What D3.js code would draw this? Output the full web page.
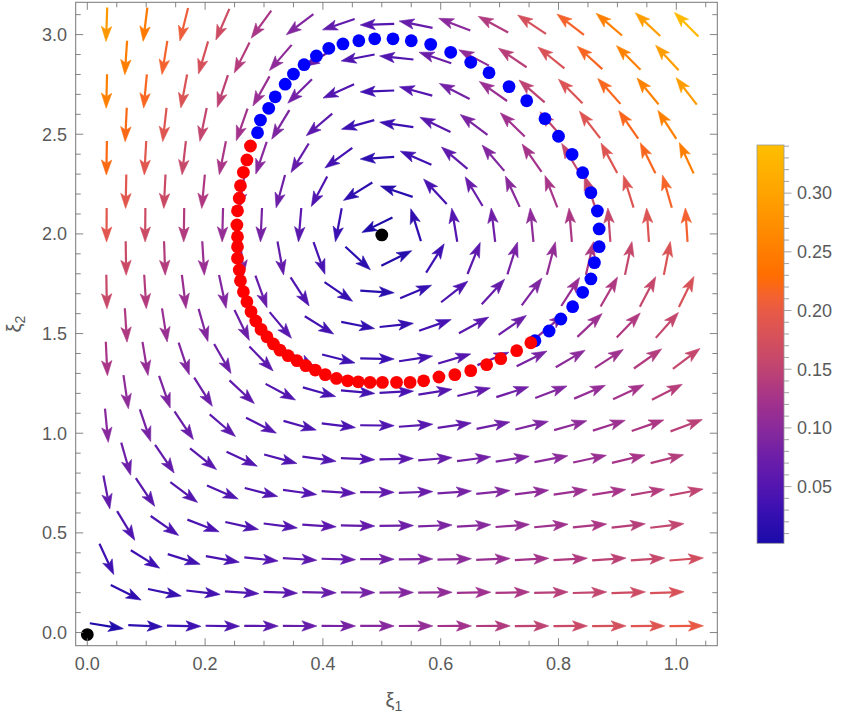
<!DOCTYPE html>
<html><head><meta charset="utf-8">
<script src="https://cdn.jsdelivr.net/npm/d3@7"></script>
<style>body{margin:0;background:#fff;} svg{display:block;} text{font-family:"Liberation Sans", Arial, sans-serif;}</style>
</head><body><svg id="chart" width="848" height="722"></svg>
<script>
// ---------------- data ----------------
// grid of arrow centres (staggered rows)
const xColsA = [0.0328,0.0984,0.1641,0.2297,0.2953,0.3609,0.4266,0.4922,0.5578,0.6234,0.6891,0.7547,0.8203,0.8859,0.9516,1.0172];
const xColsB = [0.0656,0.1313,0.1969,0.2625,0.3281,0.3938,0.4594,0.5250,0.5906,0.6563,0.7219,0.7875,0.8531,0.9188,0.9844];
const yRows = [0.033,0.201,0.368,0.536,0.704,0.871,1.039,1.207,1.374,1.542,1.710,1.878,2.045,2.213,2.381,2.548,2.716,2.884,3.051];
// vector components per row (even rows use xColsA, odd rows xColsB)
const U = [
[0.0065,0.0194,0.0323,0.0452,0.0581,0.0710,0.0839,0.0968,0.1097,0.1226,0.1355,0.1484,0.1614,0.1743,0.1872,0.2001],
[0.0118,0.0236,0.0354,0.0472,0.0590,0.0708,0.0827,0.0945,0.1063,0.1181,0.1299,0.1417,0.1535,0.1653,0.1771],
[0.0054,0.0161,0.0268,0.0375,0.0482,0.0589,0.0696,0.0803,0.0910,0.1017,0.1124,0.1231,0.1338,0.1446,0.1553,0.1660],
[0.0096,0.0192,0.0288,0.0384,0.0480,0.0576,0.0673,0.0769,0.0865,0.0961,0.1057,0.1153,0.1249,0.1345,0.1441],
[0.0043,0.0128,0.0213,0.0298,0.0383,0.0468,0.0553,0.0638,0.0723,0.0808,0.0893,0.0978,0.1063,0.1148,0.1233,0.1318],
[0.0074,0.0148,0.0222,0.0296,0.0370,0.0444,0.0518,0.0593,0.0667,0.0741,0.0815,0.0889,0.0963,0.1037,0.1111],
[0.0032,0.0095,0.0158,0.0221,0.0284,0.0347,0.0410,0.0473,0.0536,0.0599,0.0662,0.0725,0.0788,0.0851,0.0914,0.0977],
[0.0052,0.0104,0.0156,0.0208,0.0260,0.0312,0.0364,0.0416,0.0468,0.0521,0.0573,0.0625,0.0677,0.0729,0.0781],
[0.0021,0.0062,0.0103,0.0144,0.0185,0.0226,0.0267,0.0308,0.0349,0.0390,0.0431,0.0472,0.0513,0.0554,0.0595,0.0636],
[0.0030,0.0060,0.0090,0.0120,0.0150,0.0180,0.0210,0.0240,0.0270,0.0300,0.0330,0.0361,0.0391,0.0421,0.0451],
[0.0010,0.0029,0.0048,0.0067,0.0086,0.0105,0.0124,0.0143,0.0162,0.0181,0.0200,0.0219,0.0238,0.0257,0.0276,0.0295],
[0.0008,0.0016,0.0024,0.0032,0.0040,0.0048,0.0056,0.0064,0.0072,0.0080,0.0088,0.0096,0.0104,0.0112,0.0120],
[-0.0001,-0.0004,-0.0007,-0.0010,-0.0013,-0.0016,-0.0019,-0.0022,-0.0025,-0.0028,-0.0031,-0.0034,-0.0037,-0.0040,-0.0043,-0.0046],
[-0.0014,-0.0028,-0.0042,-0.0056,-0.0070,-0.0084,-0.0098,-0.0112,-0.0126,-0.0140,-0.0154,-0.0168,-0.0182,-0.0196,-0.0209],
[-0.0012,-0.0037,-0.0062,-0.0087,-0.0112,-0.0137,-0.0162,-0.0187,-0.0212,-0.0237,-0.0262,-0.0287,-0.0312,-0.0337,-0.0362,-0.0387],
[-0.0036,-0.0072,-0.0108,-0.0144,-0.0180,-0.0216,-0.0252,-0.0288,-0.0324,-0.0360,-0.0396,-0.0432,-0.0468,-0.0504,-0.0540],
[-0.0023,-0.0070,-0.0117,-0.0164,-0.0211,-0.0258,-0.0305,-0.0352,-0.0399,-0.0446,-0.0493,-0.0540,-0.0587,-0.0634,-0.0681,-0.0728],
[-0.0058,-0.0116,-0.0174,-0.0232,-0.0290,-0.0348,-0.0406,-0.0464,-0.0522,-0.0580,-0.0638,-0.0696,-0.0754,-0.0812,-0.0870],
[-0.0034,-0.0103,-0.0172,-0.0241,-0.0310,-0.0379,-0.0448,-0.0517,-0.0586,-0.0655,-0.0724,-0.0793,-0.0862,-0.0931,-0.1000,-0.1069]
];
const V = [
[-0.0031,-0.0026,-0.0022,-0.0018,-0.0014,-0.0009,-0.0005,-0.0001,0.0004,0.0008,0.0012,0.0017,0.0021,0.0025,0.0030,0.0034],
[-0.0174,-0.0148,-0.0122,-0.0095,-0.0069,-0.0043,-0.0016,0.0010,0.0036,0.0063,0.0089,0.0115,0.0142,0.0168,0.0194],
[-0.0344,-0.0296,-0.0248,-0.0199,-0.0151,-0.0102,-0.0054,-0.0006,0.0043,0.0091,0.0139,0.0188,0.0236,0.0284,0.0333,0.0381],
[-0.0466,-0.0395,-0.0325,-0.0255,-0.0184,-0.0114,-0.0044,0.0027,0.0097,0.0168,0.0238,0.0308,0.0379,0.0449,0.0519],
[-0.0658,-0.0565,-0.0473,-0.0380,-0.0288,-0.0196,-0.0103,-0.0011,0.0081,0.0174,0.0266,0.0358,0.0451,0.0543,0.0636,0.0728],
[-0.0757,-0.0643,-0.0528,-0.0414,-0.0300,-0.0185,-0.0071,0.0044,0.0158,0.0272,0.0387,0.0501,0.0615,0.0730,0.0844],
[-0.0971,-0.0835,-0.0698,-0.0562,-0.0425,-0.0289,-0.0153,-0.0016,0.0120,0.0257,0.0393,0.0529,0.0666,0.0802,0.0938,0.1075],
[-0.1048,-0.0890,-0.0732,-0.0573,-0.0415,-0.0256,-0.0098,0.0060,0.0219,0.0377,0.0536,0.0694,0.0852,0.1011,0.1169],
[-0.1284,-0.1104,-0.0923,-0.0743,-0.0563,-0.0382,-0.0202,-0.0021,0.0159,0.0339,0.0520,0.0700,0.0880,0.1061,0.1241,0.1422],
[-0.1340,-0.1137,-0.0935,-0.0732,-0.0530,-0.0328,-0.0125,0.0077,0.0280,0.0482,0.0684,0.0887,0.1089,0.1292,0.1494],
[-0.1598,-0.1373,-0.1149,-0.0924,-0.0700,-0.0476,-0.0251,-0.0027,0.0198,0.0422,0.0647,0.0871,0.1095,0.1320,0.1544,0.1769],
[-0.1631,-0.1385,-0.1138,-0.0892,-0.0645,-0.0399,-0.0153,0.0094,0.0340,0.0587,0.0833,0.1080,0.1326,0.1572,0.1819],
[-0.1911,-0.1643,-0.1374,-0.1106,-0.0837,-0.0569,-0.0300,-0.0032,0.0236,0.0505,0.0773,0.1042,0.1310,0.1579,0.1847,0.2116],
[-0.1922,-0.1632,-0.1342,-0.1051,-0.0761,-0.0470,-0.0180,0.0111,0.0401,0.0692,0.0982,0.1272,0.1563,0.1853,0.2144],
[-0.2224,-0.1912,-0.1599,-0.1287,-0.0975,-0.0662,-0.0350,-0.0037,0.0275,0.0588,0.0900,0.1213,0.1525,0.1837,0.2150,0.2462],
[-0.2214,-0.1879,-0.1545,-0.1210,-0.0876,-0.0541,-0.0207,0.0127,0.0462,0.0796,0.1131,0.1465,0.1800,0.2134,0.2469],
[-0.2538,-0.2181,-0.1825,-0.1468,-0.1112,-0.0755,-0.0399,-0.0042,0.0314,0.0671,0.1027,0.1383,0.1740,0.2096,0.2453,0.2809],
[-0.2505,-0.2127,-0.1748,-0.1370,-0.0991,-0.0613,-0.0234,0.0144,0.0523,0.0901,0.1280,0.1658,0.2037,0.2415,0.2793],
[-0.2851,-0.2451,-0.2050,-0.1650,-0.1249,-0.0849,-0.0448,-0.0048,0.0353,0.0753,0.1154,0.1554,0.1955,0.2355,0.2756,0.3156]
];
// trajectory samples
const blueX = [0.760,0.784,0.804,0.824,0.841,0.855,0.861,0.869,0.869,0.866,0.855,0.841,0.823,0.800,0.777,0.746,0.716,0.682,0.651,0.617,0.583,0.550,0.519,0.488,0.461,0.434,0.410,0.389,0.368,0.350,0.336,0.319,0.308,0.294,0.289];
const blueY = [1.464,1.513,1.573,1.635,1.707,1.774,1.856,1.936,2.025,2.115,2.207,2.307,2.399,2.490,2.578,2.668,2.739,2.809,2.861,2.911,2.951,2.969,2.979,2.979,2.969,2.953,2.931,2.893,2.849,2.802,2.751,2.688,2.630,2.571,2.508];
const redX = [0.277,0.271,0.265,0.260,0.258,0.255,0.254,0.255,0.255,0.255,0.258,0.260,0.265,0.271,0.278,0.286,0.295,0.305,0.316,0.327,0.341,0.356,0.371,0.387,0.404,0.423,0.442,0.460,0.480,0.501,0.525,0.548,0.571,0.597,0.624,0.651,0.678,0.702,0.729,0.753];
const redY = [2.441,2.371,2.309,2.242,2.179,2.116,2.045,1.986,1.936,1.878,1.819,1.765,1.710,1.660,1.610,1.563,1.521,1.484,1.448,1.417,1.389,1.364,1.339,1.317,1.294,1.275,1.263,1.258,1.255,1.255,1.255,1.255,1.263,1.282,1.294,1.314,1.344,1.374,1.414,1.454];
// equilibrium points
const eqX = [0.0, 0.5];
const eqY = [-0.01, 1.995];
// ticks
const xTicks = [0.0,0.2,0.4,0.6,0.8,1.0];
const yTicks = [0.0,0.5,1.0,1.5,2.0,2.5,3.0];
const cbTicks = [0.05,0.10,0.15,0.20,0.25,0.30];
const cbRange = [0.0017, 0.341];
// colour function stops (value -> colour)
const stopValues = [0.0017,0.03,0.05,0.075,0.10,0.125,0.15,0.175,0.20,0.215,0.228,0.26,0.30,0.341];
const stopColors = ["#1a0ba8","#3a10b2","#5315b0","#6c1ea8","#8a2a9c","#a5338a","#bf4472","#d4505c","#e85a46","#f6642a","#ff6c00","#ff8500","#ffa300","#ffbf00"];

// ---------------- drawing ----------------
const svg = d3.select("#chart");
const W = 848, H = 722;
const L = 75.7, R = 717.3, T = 2.3, B = 645.7;
const x = d3.scaleLinear().domain([-0.0197, 1.0696]).range([L, R]);
const y = d3.scaleLinear().domain([-0.066, 3.162]).range([B, T]);
const color = d3.scaleLinear().domain(stopValues).range(stopColors).interpolate(d3.interpolateRgb).clamp(true);

svg.append("rect").attr("width", W).attr("height", H).attr("fill", "#fff");

const arrows = [];
yRows.forEach((yv, k) => {
  const xs = (k % 2 === 0) ? xColsA : xColsB;
  xs.forEach((xv, j) => arrows.push({x: xv, y: yv, u: U[k][j], v: V[k][j]}));
});

const ALEN = 34, HL = 15, HW = 5.2, NOTCH = 11.5;
function geom(d) {
  const cx = x(d.x), cy = y(d.y);
  const dx = x(d.u) - x(0), dy = y(d.v) - y(0);
  const m = Math.hypot(dx, dy) || 1;
  const ux = dx / m, uy = dy / m, nx = -uy, ny = ux;
  const tail = [cx - ux * ALEN / 2, cy - uy * ALEN / 2];
  const tip = [cx + ux * ALEN / 2, cy + uy * ALEN / 2];
  return {tail, tip, ux, uy, nx, ny};
}
const gA = svg.append("g");
const ag = gA.selectAll("g").data(arrows).join("g")
  .attr("fill", d => color(Math.hypot(d.u, d.v)))
  .attr("stroke", d => color(Math.hypot(d.u, d.v)));
ag.append("line")
  .attr("stroke-width", 2.2)
  .attr("x1", d => geom(d).tail[0]).attr("y1", d => geom(d).tail[1])
  .attr("x2", d => { const g = geom(d); return g.tip[0] - g.ux * NOTCH; })
  .attr("y2", d => { const g = geom(d); return g.tip[1] - g.uy * NOTCH; });
ag.append("path")
  .attr("stroke-width", 0.6)
  .attr("stroke-linejoin", "round")
  .attr("d", d => {
    const g = geom(d), t = g.tip;
    const bx = t[0] - g.ux * HL, by = t[1] - g.uy * HL;
    const p1 = [bx + g.nx * HW, by + g.ny * HW];
    const p2 = [t[0] - g.ux * NOTCH, t[1] - g.uy * NOTCH];
    const p3 = [bx - g.nx * HW, by - g.ny * HW];
    return `M${t[0]},${t[1]}L${p1[0]},${p1[1]}L${p2[0]},${p2[1]}L${p3[0]},${p3[1]}Z`;
  });

// trajectory points
const R_DOT = 6.4;
svg.append("g").selectAll("circle").data(blueX.map((v, i) => [v, blueY[i]])).join("circle")
  .attr("cx", d => x(d[0])).attr("cy", d => y(d[1])).attr("r", R_DOT).attr("fill", "#0000ff");
svg.append("g").selectAll("circle").data(redX.map((v, i) => [v, redY[i]])).join("circle")
  .attr("cx", d => x(d[0])).attr("cy", d => y(d[1])).attr("r", R_DOT).attr("fill", "#ff0000");
svg.append("g").selectAll("circle").data(eqX.map((v, i) => [v, eqY[i]])).join("circle")
  .attr("cx", d => x(d[0])).attr("cy", d => y(d[1])).attr("r", R_DOT).attr("fill", "#000");

// frame
const frameCol = "#777";
svg.append("rect").attr("x", L).attr("y", T).attr("width", R - L).attr("height", B - T)
  .attr("fill", "none").attr("stroke", frameCol).attr("stroke-width", 1);
const tg = svg.append("g").attr("stroke", frameCol).attr("stroke-width", 0.9);
const xMinor = d3.range(0, 1.0501, 0.05);
const yMinor = d3.range(0, 3.1001, 0.1);
const isMajor = (v, arr) => arr.some(a => Math.abs(a - v) < 1e-6);
xMinor.forEach(v => {
  const len = isMajor(v, xTicks) ? 7.5 : 5;
  tg.append("line").attr("x1", x(v)).attr("x2", x(v)).attr("y1", B).attr("y2", B - len);
  tg.append("line").attr("x1", x(v)).attr("x2", x(v)).attr("y1", T).attr("y2", T + len);
});
yMinor.forEach(v => {
  const len = isMajor(v, yTicks) ? 7.5 : 5;
  tg.append("line").attr("y1", y(v)).attr("y2", y(v)).attr("x1", L).attr("x2", L + len);
  tg.append("line").attr("y1", y(v)).attr("y2", y(v)).attr("x1", R).attr("x2", R - len);
});
const labCol = "#5a5a5a";
svg.append("g").selectAll("text").data(xTicks).join("text")
  .attr("x", d => x(d)).attr("y", 670).attr("text-anchor", "middle")
  .attr("font-size", 18).attr("fill", labCol).text(d3.format(".1f"));
svg.append("g").selectAll("text").data(yTicks).join("text")
  .attr("x", 67).attr("y", d => y(d)).attr("dy", "0.35em").attr("text-anchor", "end")
  .attr("font-size", 18).attr("fill", labCol).text(d3.format(".1f"));

// axis titles
const xt = svg.append("text").attr("x", 394).attr("y", 707).attr("text-anchor", "middle")
  .attr("font-size", 20).attr("fill", labCol);
xt.append("tspan").text("ξ");
xt.append("tspan").attr("font-size", 14).attr("dy", 4).text("1");
const yt = svg.append("text").attr("transform", "translate(21,324) rotate(-90)").attr("text-anchor", "middle")
  .attr("font-size", 20).attr("fill", labCol);
yt.append("tspan").text("ξ");
yt.append("tspan").attr("font-size", 14).attr("dy", 4).text("2");

// colour bar
const cbX = 757, cbW = 27, cbTop = 145, cbBot = 543.3;
const cb = d3.scaleLinear().domain(cbRange).range([cbBot, cbTop]);
const defs = svg.append("defs");
const grad = defs.append("linearGradient").attr("id", "cbg").attr("x1", 0).attr("y1", 1).attr("x2", 0).attr("y2", 0);
d3.range(0, 41).forEach(i => {
  const v = cbRange[0] + (cbRange[1] - cbRange[0]) * i / 40;
  grad.append("stop").attr("offset", i / 40).attr("stop-color", color(v));
});
svg.append("rect").attr("x", cbX).attr("y", cbTop).attr("width", cbW).attr("height", cbBot - cbTop)
  .attr("fill", "url(#cbg)").attr("stroke", "#999").attr("stroke-width", 0.8);
const cbg = svg.append("g").attr("stroke", "#999").attr("stroke-width", 0.9);
d3.range(0.01, 0.3401, 0.01).forEach(v => {
  const len = isMajor(v, cbTicks) ? 7.5 : 5;
  cbg.append("line").attr("x1", cbX + cbW).attr("x2", cbX + cbW + len).attr("y1", cb(v)).attr("y2", cb(v));
});
svg.append("g").selectAll("text").data(cbTicks).join("text")
  .attr("x", 797).attr("y", d => cb(d)).attr("dy", "0.35em")
  .attr("font-size", 18).attr("fill", labCol).text(d3.format(".2f"));
</script></body></html>
